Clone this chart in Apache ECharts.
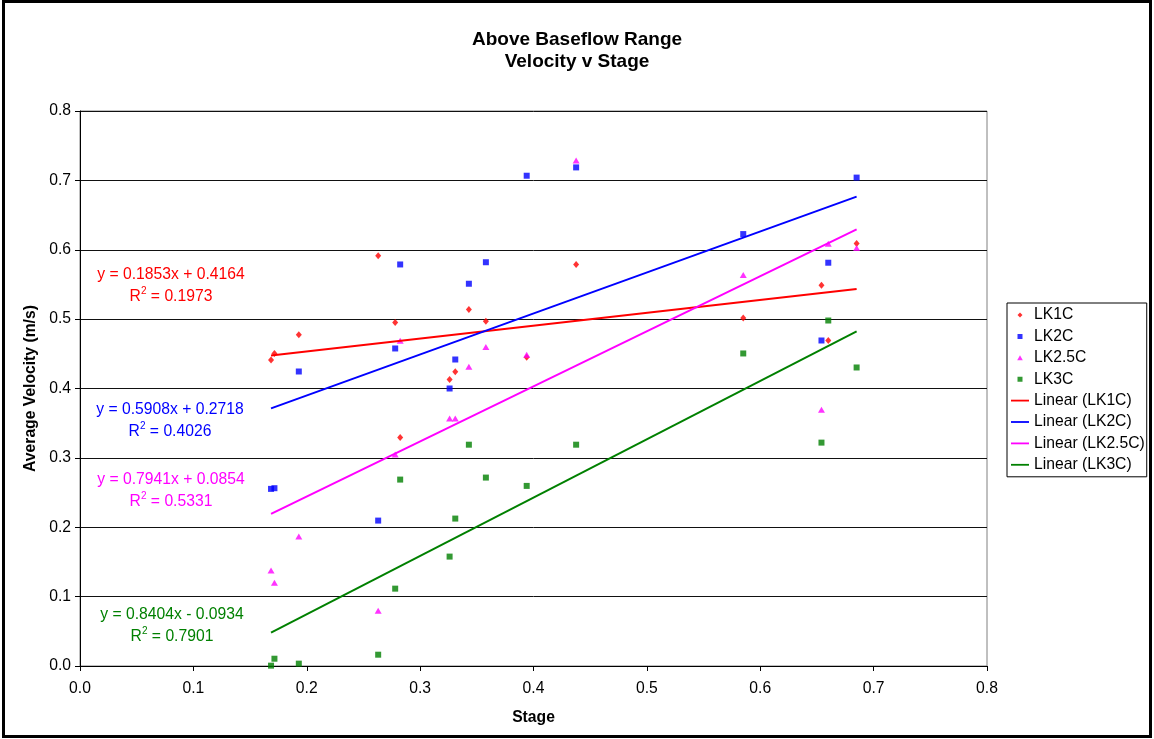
<!DOCTYPE html>
<html>
<head>
<meta charset="utf-8">
<script src="https://cdn.jsdelivr.net/npm/echarts@6/dist/echarts.min.js"></script>
<style>
html,body{margin:0;padding:0;background:#fff;}
#chart{position:absolute;left:0;top:0;width:1154px;height:739px;}
#frame{position:absolute;left:2px;top:0px;width:1150px;height:738px;border:3px solid #000;box-sizing:border-box;pointer-events:none;}
</style>
</head>
<body>
<div id="chart"></div>
<div id="frame"></div>
<script>
// ---- data ----
const stages = [0.1685, 0.1715, 0.193, 0.263, 0.278, 0.2824, 0.326, 0.331, 0.343, 0.358, 0.394, 0.4376, 0.585, 0.654, 0.660, 0.685];
const lk1c  = [0.441, 0.4505, 0.4774, 0.5913, 0.495, 0.3293, 0.413, 0.424, 0.514, 0.497, 0.4452, 0.5788, 0.5015, 0.549, 0.4692, 0.609];
const lk2c  = [0.2553, 0.2563, 0.4245, 0.2096, 0.4577, 0.5788, 0.400, 0.4418, 0.551, 0.582, 0.7067, 0.7187, 0.6226, 0.4692, 0.5813, 0.704];
const lk25c = [0.1375, 0.120, 0.1865, 0.0798, 0.3048, 0.4688, 0.3567, 0.3567, 0.4313, 0.460, 0.4486, 0.7288, 0.5635, 0.3692, 0.6087, 0.6024];
const lk3c  = [0.0005, 0.0105, 0.0034, 0.0163, 0.1115, 0.2687, 0.1577, 0.2125, 0.319, 0.2716, 0.2596, 0.319, 0.4505, 0.322, 0.498, 0.4303];
const seriesNames = ['LK1C', 'LK2C', 'LK2.5C', 'LK3C'];
const slopes = [0.1853, 0.5908, 0.7941, 0.8404];
const intercepts = [0.4164, 0.2718, 0.0854, -0.0934];
const r2 = [0.1973, 0.4026, 0.5331, 0.7901];
const xTicks = [0, 0.1, 0.2, 0.3, 0.4, 0.5, 0.6, 0.7, 0.8];
const yTicks = [0, 0.1, 0.2, 0.3, 0.4, 0.5, 0.6, 0.7, 0.8];
const titleLines = ['Above Baseflow Range', 'Velocity v Stage'];

// ---- styles ----
const colors = ['#FF0000', '#0000FF', '#FF00FF', '#008000'];
const symbols = ['diamond', 'rect', 'triangle', 'rect'];
const symSizes = [[6, 7], 6, [7, 6], 6];
// legend icons: small marker centred in an 18x6 box (corner anchors keep the box size)
const BOX = 'M0,0L0.01,0ZM18,6L17.99,6Z';
const legendIcons = [
  'path://' + BOX + 'M6.5,3L9,0.5L11.5,3L9,5.5Z',
  'path://' + BOX + 'M6.5,0.5L11.5,0.5L11.5,5.5L6.5,5.5Z',
  'path://' + BOX + 'M9,0.5L11.8,5.5L6.2,5.5Z',
  'path://' + BOX + 'M6.5,0.5L11.5,0.5L11.5,5.5L6.5,5.5Z'
];
const lineIcon = 'path://M0,0L20,0L20,2L0,2Z';
const eqPos = [[171, 275], [170, 410], [171, 480], [172, 615]];
const FONT = 'Liberation Sans, Arial, sans-serif';
const FS = 15.7;

const values = [lk1c, lk2c, lk25c, lk3c];
const xMin = Math.min(...stages), xMax = Math.max(...stages);

const series = [];
const legendData = [];
values.forEach((vals, i) => {
  series.push({
    name: seriesNames[i], type: 'scatter', symbol: symbols[i], symbolSize: symSizes[i],
    itemStyle: {color: colors[i]},
    data: stages.map((s, k) => [s, vals[k]]),
    z: 2
  });
  legendData.push({name: seriesNames[i], icon: legendIcons[i], itemStyle: {color: colors[i], borderWidth: 0}});
});
values.forEach((vals, i) => {
  const nm = 'Linear (' + seriesNames[i] + ')';
  series.push({
    name: nm, type: 'line', symbol: 'none', showSymbol: false,
    lineStyle: {color: colors[i], width: 2}, itemStyle: {color: colors[i]},
    data: [[xMin, slopes[i] * xMin + intercepts[i]], [xMax, slopes[i] * xMax + intercepts[i]]],
    z: 3, silent: true, animation: false
  });
  legendData.push({name: nm, icon: lineIcon, itemStyle: {color: colors[i], borderWidth: 0}});
});

function eqText(i) {
  const b = intercepts[i];
  return 'y = ' + slopes[i].toFixed(4) + 'x ' + (b < 0 ? '- ' : '+ ') + Math.abs(b).toFixed(4) +
    '\nR{sup|2} = ' + r2[i].toFixed(4);
}

const graphics = eqPos.map((p, i) => ({
  type: 'text', x: p[0], y: p[1] - 11,
  style: {
    text: eqText(i), fill: colors[i], font: FS + 'px ' + FONT,
    textAlign: 'center', textVerticalAlign: 'top', lineHeight: 22,
    rich: {sup: {fontSize: 10, fill: colors[i], verticalAlign: 'top', lineHeight: 22, fontFamily: FONT}}
  }
}));

const chart = echarts.init(document.getElementById('chart'), null, {renderer: 'canvas'});
chart.setOption({
  animation: false,
  backgroundColor: '#fff',
  title: {
    text: titleLines.join('\n'), left: 'center', top: 24,
    textStyle: {fontFamily: FONT, fontSize: 19, fontWeight: 'bold', color: '#000', lineHeight: 22}
  },
  grid: {left: 80, top: 111, right: 167, bottom: 73, show: true, borderColor: '#808080', borderWidth: 1, backgroundColor: '#fff'},
  xAxis: {
    type: 'value', min: xTicks[0], max: xTicks[xTicks.length - 1], interval: 0.1,
    name: 'Stage', nameLocation: 'middle', nameGap: 44,
    nameTextStyle: {fontFamily: FONT, fontSize: FS, fontWeight: 'bold', color: '#000'},
    axisLine: {show: true, lineStyle: {color: '#000', width: 1}},
    axisTick: {show: true, length: 5, lineStyle: {color: '#000'}},
    axisLabel: {fontFamily: FONT, fontSize: FS, color: '#000', margin: 15, formatter: v => v.toFixed(1)},
    splitLine: {show: false}
  },
  yAxis: {
    type: 'value', min: yTicks[0], max: yTicks[yTicks.length - 1], interval: 0.1,
    name: 'Average Velocity (m/s)', nameLocation: 'middle', nameGap: 36, nameRotate: 90,
    nameTextStyle: {fontFamily: FONT, fontSize: FS, fontWeight: 'bold', color: '#000'},
    axisLine: {show: true, lineStyle: {color: '#000', width: 1}},
    axisTick: {show: true, length: 5, lineStyle: {color: '#000'}},
    axisLabel: {fontFamily: FONT, fontSize: FS, color: '#000', margin: 9, formatter: v => v.toFixed(1)},
    splitLine: {show: true, lineStyle: {color: '#111', width: 1}}
  },
  legend: {
    orient: 'vertical', left: 1007, top: 303,
    itemWidth: 18, itemHeight: 6, itemGap: 5.4,
    padding: [4, 2, 4, 4],
    borderColor: '#000', borderWidth: 1, backgroundColor: '#fff',
    textStyle: {fontFamily: FONT, fontSize: FS, color: '#000', lineHeight: 16},
    data: legendData
  },
  graphic: graphics,
  series: series
});
</script>
</body>
</html>
